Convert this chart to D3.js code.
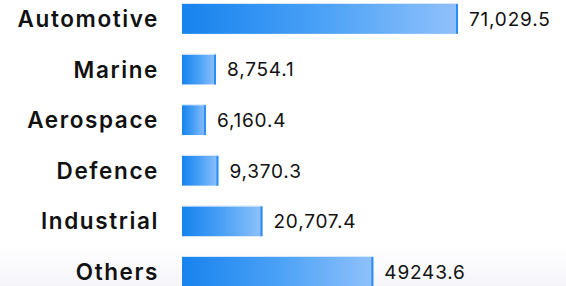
<!DOCTYPE html>
<html>
<head>
<meta charset="utf-8">
<script src="https://cdn.jsdelivr.net/npm/d3@7"></script>
<style>
  html, body { margin: 0; padding: 0; background: #fff; }
  svg { display: block; }
</style>
</head>
<body>
<script>
'use strict';

let categories = ['Automotive', 'Marine', 'Aerospace', 'Defence', 'Industrial', 'Others'];
let values = [71029.5, 8754.1, 6160.4, 9370.3, 20707.4, 49243.6];
let valueLabels = ['71,029.5', '8,754.1', '6,160.4', '9,370.3', '20,707.4', '49243.6'];

let width = 566;
let height = 286;

let rows = categories.map(function(c, i) {
  return {name: c, value: values[i], label: valueLabels[i]};
});

let x = d3.scaleLinear()
  .domain([0, d3.max(values)])
  .range([182, 458]);

// step ~50.6px, bars ~29.5px high, last one runs off the bottom
let y = d3.scaleBand()
  .domain(categories)
  .range([4, 4 + 50.6 * (6 - 0.41)])
  .paddingInner(0.41)
  .paddingOuter(0);

let svg = d3.select('body').append('svg')
  .attr('width', width)
  .attr('height', height);

let defs = svg.append('defs');

let grad = defs.append('linearGradient')
  .attr('id', 'barGrad')
  .attr('x1', '0%').attr('x2', '100%')
  .attr('y1', '0%').attr('y2', '0%');
grad.append('stop').attr('offset', '0%').attr('stop-color', '#1783ee');
grad.append('stop').attr('offset', '50%').attr('stop-color', '#4aa1f6');
grad.append('stop').attr('offset', '100%').attr('stop-color', '#90c1fb');

let bg = defs.append('linearGradient')
  .attr('id', 'bgGrad')
  .attr('x1', '0%').attr('x2', '0%')
  .attr('y1', '0%').attr('y2', '100%');
bg.append('stop').attr('offset', '0%').attr('stop-color', '#ffffff');
bg.append('stop').attr('offset', '100%').attr('stop-color', '#f5f4f9');

// faint background at the bottom
svg.append('rect')
  .attr('x', 0)
  .attr('y', 245)
  .attr('width', width)
  .attr('height', height - 245)
  .attr('fill', 'url(#bgGrad)');

let row = svg.append('g')
  .selectAll('g')
  .data(rows)
  .enter().append('g');

// bars
row.append('rect')
  .attr('x', x(0))
  .attr('y', function(d) { return y(d.name); })
  .attr('width', function(d) { return x(d.value) - x(0); })
  .attr('height', y.bandwidth())
  .attr('fill', 'url(#barGrad)');

// light top edge
row.append('line')
  .attr('x1', x(0))
  .attr('x2', function(d) { return x(d.value); })
  .attr('y1', function(d) { return y(d.name) - 0.5; })
  .attr('y2', function(d) { return y(d.name) - 0.5; })
  .attr('stroke', '#d6e8fd')
  .attr('stroke-width', 1);

// blue right edge
row.append('line')
  .attr('x1', function(d) { return x(d.value) - 1; })
  .attr('x2', function(d) { return x(d.value) - 1; })
  .attr('y1', function(d) { return y(d.name); })
  .attr('y2', function(d) { return y(d.name) + y.bandwidth(); })
  .attr('stroke', '#2a8df6')
  .attr('stroke-width', 2);

// category labels
row.append('text')
  .attr('x', 159)
  .attr('y', function(d) { return y(d.name) + y.bandwidth() / 2; })
  .attr('dy', '0.36em')
  .attr('text-anchor', 'end')
  .attr('font-family', 'Inter, "Open Sans", sans-serif')
  .attr('font-weight', 600)
  .attr('font-size', 22.5)
  .attr('letter-spacing', 1.6)
  .attr('fill', '#111')
  .text(function(d) { return d.name; });

// value labels
row.append('text')
  .attr('x', function(d) { return x(d.value) + 11; })
  .attr('y', function(d) { return y(d.name) + y.bandwidth() / 2; })
  .attr('dy', '0.36em')
  .attr('font-family', 'Inter, "Open Sans", sans-serif')
  .attr('font-size', 19)
  .attr('letter-spacing', 0.8)
  .attr('fill', '#111')
  .text(function(d) { return d.label; });
</script>
</body>
</html>
